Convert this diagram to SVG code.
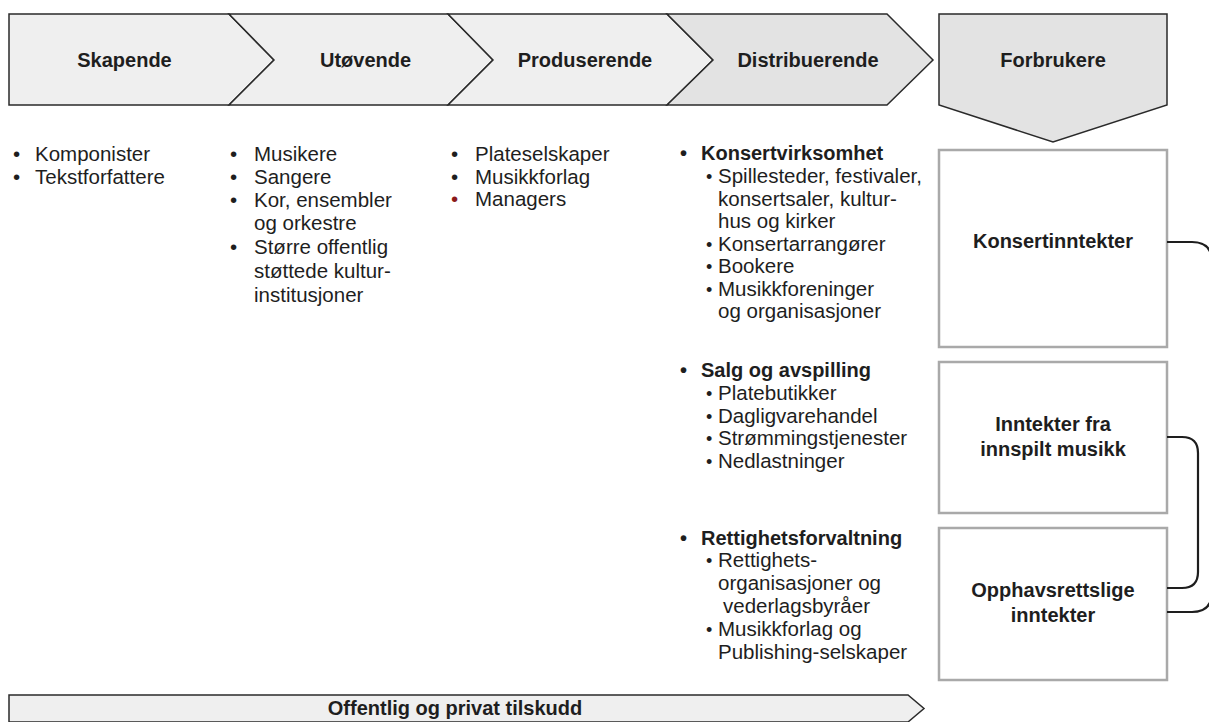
<svg xmlns="http://www.w3.org/2000/svg" width="1209" height="722" viewBox="0 0 1209 722">
<style>
text{font-family:"Liberation Sans",Arial,sans-serif;fill:#1e1e1e}
.h{font-weight:bold;font-size:20px;text-anchor:middle}
.b{font-size:20.5px}
.hb{font-size:20px;font-weight:bold}
.sb{font-size:18px}
.chev{fill:#efefef;stroke:#2a2a2a;stroke-width:1.5;stroke-linejoin:miter}
.chev2{fill:#e3e3e3;stroke:#2a2a2a;stroke-width:1.5}
.box{fill:#fff;stroke:#a9a9a9;stroke-width:2.5}
.con{fill:none;stroke:#1e1e1e;stroke-width:2.2}
</style>
<rect width="1209" height="722" fill="#fff"/>
<g id="skapende">
<path class="chev" d="M9,14 H229 L274,60 L229,105 H9 Z"/>
<text class="h" x="124.5" y="67">Skapende</text>
</g>
<g id="utovende">
<path class="chev" d="M229,14 H448 L493,60 L448,105 H229 L274,60 Z"/>
<text class="h" x="365.5" y="67">Utøvende</text>
</g>
<g id="produserende">
<path class="chev" d="M448,14 H667 L713,60 L667,105 H448 L493,60 Z"/>
<text class="h" x="585" y="67">Produserende</text>
</g>
<g id="distribuerende">
<path class="chev2" d="M667,14 H887 L933,60 L887,105 H667 L713,60 Z"/>
<text class="h" x="808" y="67">Distribuerende</text>
</g>
<g id="forbrukere">
<path class="chev2" d="M939,14 H1167 V105 L1053,142 L939,105 Z"/>
<text class="h" x="1053" y="67">Forbrukere</text>
</g>
<g id="list-skapende">
<text class="b"><tspan x="13" y="161">•</tspan><tspan x="13" y="183.5">•</tspan></text>
<text class="b"><tspan x="35" y="161">Komponister</tspan><tspan x="35" y="183.5">Tekstforfattere</tspan></text>
</g>
<g id="list-utovende">
<text class="b"><tspan x="230" y="161">•</tspan><tspan x="230" y="184">•</tspan><tspan x="230" y="207">•</tspan><tspan x="230" y="254">•</tspan></text>
<text class="b"><tspan x="254" y="161">Musikere</tspan><tspan x="254" y="184">Sangere</tspan><tspan x="254" y="207">Kor, ensembler</tspan><tspan x="254" y="230">og orkestre</tspan><tspan x="254" y="254">Større offentlig</tspan><tspan x="254" y="278">støttede kultur-</tspan><tspan x="254" y="302">institusjoner</tspan></text>
</g>
<g id="list-produserende">
<text class="b"><tspan x="451" y="161">•</tspan><tspan x="451" y="183.5">•</tspan><tspan x="451" y="206" style="fill:#8b1a1a">•</tspan></text>
<text class="b"><tspan x="475" y="161">Plateselskaper</tspan><tspan x="475" y="183.5">Musikkforlag</tspan><tspan x="475" y="206">Managers</tspan></text>
</g>
<g id="list-distribuerende">
<text class="hb" x="680" y="160">•</text>
<text class="hb" x="701" y="160">Konsertvirksomhet</text>
<text class="sb"><tspan x="706" y="182.5">•</tspan><tspan x="706" y="250.5">•</tspan><tspan x="706" y="273">•</tspan><tspan x="706" y="295.5">•</tspan></text>
<text class="b"><tspan x="718" y="183">Spillesteder, festivaler,</tspan><tspan x="718" y="206">konsertsaler, kultur-</tspan><tspan x="718" y="228">hus og kirker</tspan><tspan x="718" y="251">Konsertarrangører</tspan><tspan x="718" y="273">Bookere</tspan><tspan x="718" y="296">Musikkforeninger</tspan><tspan x="718" y="318">og organisasjoner</tspan></text>
<text class="hb" x="680" y="377">•</text>
<text class="hb" x="701" y="377">Salg og avspilling</text>
<text class="sb"><tspan x="706" y="399.5">•</tspan><tspan x="706" y="422.5">•</tspan><tspan x="706" y="444.5">•</tspan><tspan x="706" y="467.5">•</tspan></text>
<text class="b"><tspan x="718" y="400">Platebutikker</tspan><tspan x="718" y="423">Dagligvarehandel</tspan><tspan x="718" y="445">Strømmingstjenester</tspan><tspan x="718" y="468">Nedlastninger</tspan></text>
<text class="hb" x="680" y="545">•</text>
<text class="hb" x="701" y="545">Rettighetsforvaltning</text>
<text class="sb"><tspan x="706" y="566.5">•</tspan><tspan x="706" y="635.5">•</tspan></text>
<text class="b"><tspan x="718" y="567">Rettighets-</tspan><tspan x="718" y="590">organisasjoner og</tspan><tspan x="723" y="613">vederlagsbyråer</tspan><tspan x="718" y="636">Musikkforlag og</tspan><tspan x="718" y="659">Publishing-selskaper</tspan></text>
</g>
<g id="konsertinntekter">
<rect class="box" x="939" y="150" width="228" height="197"/>
<text class="h" x="1053" y="248">Konsertinntekter</text>
</g>
<g id="innspilt">
<rect class="box" x="939" y="362" width="228" height="151"/>
<text class="h"><tspan x="1053" y="431">Inntekter fra</tspan><tspan x="1053" y="456">innspilt musikk</tspan></text>
</g>
<g id="opphavsrett">
<rect class="box" x="939" y="528" width="228" height="152"/>
<text class="h"><tspan x="1053" y="597">Opphavsrettslige</tspan><tspan x="1053" y="622">inntekter</tspan></text>
</g>
<g id="tilskudd">
<path class="chev" d="M9,695 H908 L924,708.5 L908,722 H9 Z"/>
<text class="h" x="455" y="715">Offentlig og privat tilskudd</text>
</g>
<g id="connectors">
<path class="con" d="M1167,242 H1192 Q1212,242 1212,262 V592 Q1212,612 1192,612 H1167"/>
<path class="con" d="M1167,437 H1182 Q1198,437 1198,453 V572 Q1198,588 1182,588 H1167"/>
</g>
</svg>
